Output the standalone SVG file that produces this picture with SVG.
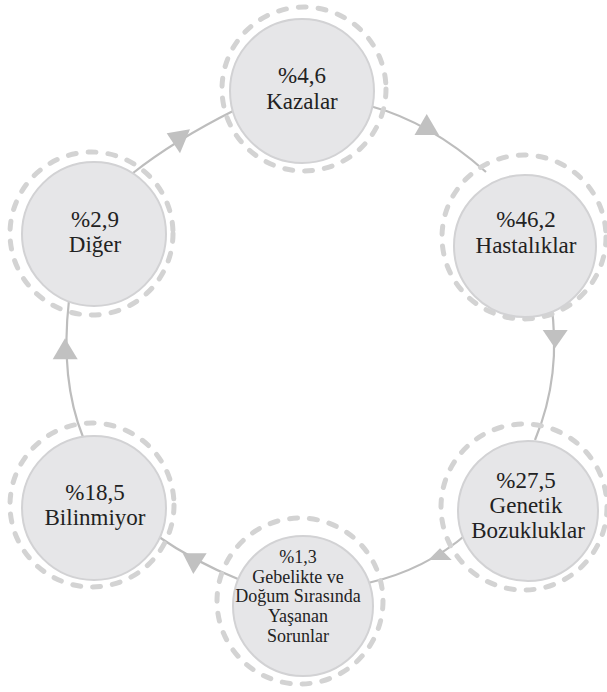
<svg xmlns="http://www.w3.org/2000/svg" width="607" height="692" viewBox="0 0 607 692">
<style>
.conn{fill:none;stroke:#bdbdbd;stroke-width:2.2}
.arr{fill:#c1c1c1}
.ring{fill:none;stroke:#d3d3d3;stroke-width:5;stroke-dasharray:8 12;stroke-linecap:round}
.disc{fill:#e6e6e8;stroke:#d2d2d4;stroke-width:2}
.t{font-family:"Liberation Serif","Times New Roman",serif;font-size:23px;fill:#222;text-anchor:middle}
.s{font-family:"Liberation Serif","Times New Roman",serif;font-size:18px;fill:#222;text-anchor:middle}
</style>
<rect width="607" height="692" fill="#ffffff"/>
<g id="connectors">
<path class="conn" d="M370,106 Q430,122 486,172"/>
<path class="conn" d="M551,302 Q562,375 535,440"/>
<path class="conn" d="M468,533 Q425,570 368,583"/>
<path class="conn" d="M238,579 Q195,562 156,535"/>
<path class="conn" d="M83,437 Q60,380 69,300"/>
<path class="conn" d="M133,173 Q175,140 235,110"/>
<polygon class="arr" points="426.7,114 414.5,135 439,135"/>
<polygon class="arr" points="542.7,330 567.7,330 555,348.3"/>
<polygon class="arr" points="440,548.3 428.3,560 451.7,560"/>
<polygon class="arr" points="182.7,553.3 206.7,553.3 193.3,574"/>
<polygon class="arr" points="65,338.3 52.7,359.3 77.7,359.3"/>
<polygon class="arr" points="166.7,133.3 190,129.3 180,153.3"/>
</g>
<g id="kazalar">
<circle class="ring" cx="304" cy="89" r="82"/>
<circle class="disc" cx="302" cy="91" r="72"/>
<text class="t" x="302" y="83">%4,6</text>
<text class="t" x="302" y="109">Kazalar</text>
</g>
<g id="hastaliklar">
<circle class="ring" cx="524" cy="237" r="82"/>
<circle class="disc" cx="525" cy="246" r="71"/>
<text class="t" x="526" y="227">%46,2</text>
<text class="t" x="526" y="253">Hastalıklar</text>
</g>
<g id="genetik">
<circle class="ring" cx="524" cy="507" r="83"/>
<circle class="disc" cx="528" cy="511" r="70"/>
<text class="t" x="526" y="488">%27,5</text>
<text class="t" x="526" y="513">Genetik</text>
<text class="t" x="528" y="538">Bozukluklar</text>
</g>
<g id="sorunlar">
<circle class="ring" cx="300" cy="601" r="83"/>
<circle class="disc" cx="303" cy="606" r="70"/>
<text class="s" x="298" y="563">%1,3</text>
<text class="s" x="298" y="583">Gebelikte ve</text>
<text class="s" x="298" y="602">Doğum Sırasında</text>
<text class="s" x="298" y="622">Yaşanan</text>
<text class="s" x="298" y="642">Sorunlar</text>
</g>
<g id="bilinmiyor">
<circle class="ring" cx="92" cy="505" r="82"/>
<circle class="disc" cx="94" cy="508" r="72"/>
<text class="t" x="95" y="500">%18,5</text>
<text class="t" x="95" y="525">Bilinmiyor</text>
</g>
<g id="diger">
<circle class="ring" cx="91.5" cy="233.5" r="81.5"/>
<circle class="disc" cx="94" cy="234" r="72"/>
<text class="t" x="95" y="227">%2,9</text>
<text class="t" x="95" y="252">Diğer</text>
</g>
</svg>
